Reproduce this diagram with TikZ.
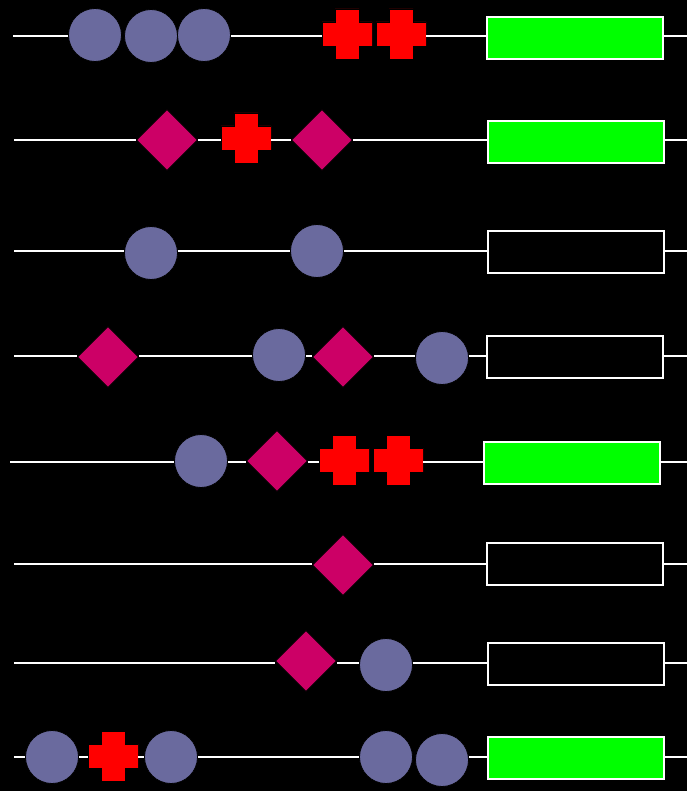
\documentclass[tikz,border=0pt]{standalone}
\usetikzlibrary{shapes.geometric}
\definecolor{bead}{HTML}{6A6A9E}
\definecolor{gem}{HTML}{CC0066}
\definecolor{plusred}{HTML}{FF0000}
\definecolor{boxgreen}{HTML}{00FF00}
\tikzset{
  wire/.style={draw=white, line width=2pt},
  ball/.style={circle, fill=bead, draw=black, line width=0.8pt, minimum size=53pt, inner sep=0pt},
  gemstone/.style={diamond, fill=gem, draw=black, line width=0.8pt, minimum width=61pt, minimum height=61pt, inner sep=0pt},
  plus/.style={rectangle, minimum size=50pt, inner sep=0pt, draw=none,
    path picture={
      \fill[plusred, draw=black, line width=0.8pt]
        ([xshift=-12pt]path picture bounding box.north) -- ([xshift=12pt]path picture bounding box.north)
        -- ++(0,-13pt) -- ([yshift=12pt]path picture bounding box.east) -- ([yshift=-12pt]path picture bounding box.east)
        -- ++(-13pt,0) -- ([xshift=12pt]path picture bounding box.south) -- ([xshift=-12pt]path picture bounding box.south)
        -- ++(0,13pt) -- ([yshift=-12pt]path picture bounding box.west) -- ([yshift=12pt]path picture bounding box.west)
        -- ++(13pt,0) -- cycle;
    }},
  greenbox/.style={rectangle, fill=boxgreen, draw=white, line width=1.6pt, minimum width=176pt, minimum height=42pt, inner sep=0pt},
  blackbox/.style={rectangle, fill=black, draw=white, line width=1.6pt, minimum width=176pt, minimum height=42pt, inner sep=0pt},
}
\begin{document}
\begin{tikzpicture}[x=1pt, y=-1pt]
\fill[black] (0,0) rectangle (687,791);
\useasboundingbox (0,0) rectangle (687,791);

% Row 1
\coordinate (s1) at (13,36);
\coordinate (e1) at (687,36);
\node[ball] (a1) at (95,35) {};
\node[ball] (a2) at (151,36) {};
\node[ball] (a3) at (204,35) {};
\node[plus] (a4) at (347,34) {};
\node[plus] (a5) at (401,34) {};
\node[greenbox] (a6) at (575,38) {};
\draw[wire] (s1) -- (a1.west |- s1);
\draw[wire] (a3.east |- s1) -- (a4.west |- s1);
\draw[wire] (a5.east |- s1) -- (a6.west |- s1);
\draw[wire] (a6.east |- s1) -- (e1);

% Row 2
\coordinate (s2) at (14,140);
\coordinate (e2) at (687,140);
\node[gemstone] (b1) at (167,140) {};
\node[plus] (b2) at (246,138) {};
\node[gemstone] (b3) at (322,140) {};
\node[greenbox] (b4) at (576,142) {};
\draw[wire] (s2) -- (b1.west |- s2);
\draw[wire] (b1.east |- s2) -- (b2.west |- s2);
\draw[wire] (b2.east |- s2) -- (b3.west |- s2);
\draw[wire] (b3.east |- s2) -- (b4.west |- s2);
\draw[wire] (b4.east |- s2) -- (e2);

% Row 3
\coordinate (s3) at (14,251);
\coordinate (e3) at (687,251);
\node[ball] (c1) at (151,253) {};
\node[ball] (c2) at (317,251) {};
\node[blackbox] (c3) at (576,252) {};
\draw[wire] (s3) -- (c1.west |- s3);
\draw[wire] (c1.east |- s3) -- (c2.west |- s3);
\draw[wire] (c2.east |- s3) -- (c3.west |- s3);
\draw[wire] (c3.east |- s3) -- (e3);

% Row 4
\coordinate (s4) at (14,356);
\coordinate (e4) at (687,356);
\node[gemstone] (d1) at (108,357) {};
\node[ball] (d2) at (279,355) {};
\node[gemstone] (d3) at (343,357) {};
\node[ball] (d4) at (442,358) {};
\node[blackbox] (d5) at (575,357) {};
\draw[wire] (s4) -- (d1.west |- s4);
\draw[wire] (d1.east |- s4) -- (d2.west |- s4);
\draw[wire] (d2.east |- s4) -- (d3.west |- s4);
\draw[wire] (d3.east |- s4) -- (d4.west |- s4);
\draw[wire] (d4.east |- s4) -- (d5.west |- s4);
\draw[wire] (d5.east |- s4) -- (e4);

% Row 5
\coordinate (s5) at (10,462);
\coordinate (e5) at (687,462);
\node[ball] (f1) at (201,461) {};
\node[gemstone] (f2) at (277,461) {};
\node[plus] (f3) at (344,460) {};
\node[plus] (f4) at (398,460) {};
\node[greenbox] (f5) at (572,463) {};
\draw[wire] (s5) -- (f1.west |- s5);
\draw[wire] (f1.east |- s5) -- (f2.west |- s5);
\draw[wire] (f2.east |- s5) -- (f3.west |- s5);
\draw[wire] (f4.east |- s5) -- (f5.west |- s5);
\draw[wire] (f5.east |- s5) -- (e5);

% Row 6
\coordinate (s6) at (14,564);
\coordinate (e6) at (687,564);
\node[gemstone] (g1) at (343,565) {};
\node[blackbox] (g2) at (575,564) {};
\draw[wire] (s6) -- (g1.west |- s6);
\draw[wire] (g1.east |- s6) -- (g2.west |- s6);
\draw[wire] (g2.east |- s6) -- (e6);

% Row 7
\coordinate (s7) at (14,663);
\coordinate (e7) at (687,663);
\node[gemstone] (h1) at (306,661) {};
\node[ball] (h2) at (386,665) {};
\node[blackbox] (h3) at (576,664) {};
\draw[wire] (s7) -- (h1.west |- s7);
\draw[wire] (h1.east |- s7) -- (h2.west |- s7);
\draw[wire] (h2.east |- s7) -- (h3.west |- s7);
\draw[wire] (h3.east |- s7) -- (e7);

% Row 8
\coordinate (s8) at (14,757);
\coordinate (e8) at (687,757);
\node[ball] (k1) at (52,757) {};
\node[plus] (k2) at (113,756) {};
\node[ball] (k3) at (171,757) {};
\node[ball] (k4) at (386,757) {};
\node[ball] (k5) at (442,760) {};
\node[greenbox] (k6) at (576,758) {};
\draw[wire] (s8) -- (k1.west |- s8);
\draw[wire] (k1.east |- s8) -- (k2.west |- s8);
\draw[wire] (k2.east |- s8) -- (k3.west |- s8);
\draw[wire] (k3.east |- s8) -- (k4.west |- s8);
\draw[wire] (k5.east |- s8) -- (k6.west |- s8);
\draw[wire] (k6.east |- s8) -- (e8);
\end{tikzpicture}
\end{document}
